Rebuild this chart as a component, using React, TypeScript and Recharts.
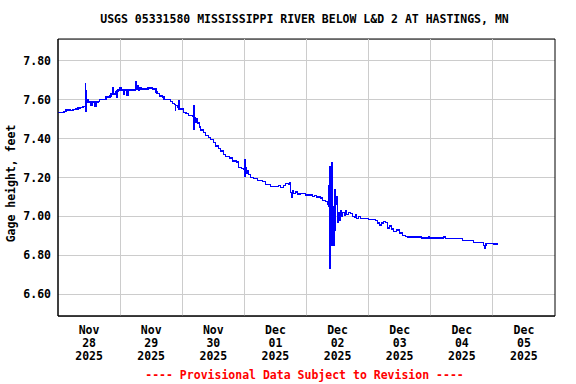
import React from "react";
import {
  LineChart,
  Line,
  XAxis,
  YAxis,
  CartesianGrid,
  ReferenceLine,
  ReferenceArea,
} from "recharts";

// hours since Nov 28 2025 00:00
const hours = [
  0, 1.5, 2.3, 3.1, 4.6, 5.8, 7.0, 7.7, 8.5, 9.7, 10.5, 10.6, 10.7, 10.8, 11.0, 11.2, 11.6, 12.4, 12.8, 13.2,
  13.9, 14.3, 14.7, 15.5, 15.9, 17.4, 18.6, 20.1, 20.5, 21.3, 21.5, 22.1, 22.5, 22.8, 23.2, 24.0, 24.4, 25.2,
  25.5, 26.7, 27.1, 29.4, 29.9, 30.2, 30.6, 31.0, 31.4, 32.1, 34.1, 34.8, 36.4, 37.9, 38.3, 39.1, 40.3, 41.0,
  42.2, 43.4, 44.1, 44.9, 45.3, 45.5, 46.1, 46.5, 46.7, 47.2, 48.4, 49.5, 50.3, 51.9, 52.4, 52.5, 52.6, 53.0,
  53.4, 53.8, 54.6, 55.0, 56.1, 56.9, 58.1, 58.8, 60.0, 60.8, 61.9, 62.7, 63.9, 64.6, 66.2, 67.4, 68.9, 69.7,
  70.8, 71.6, 72.1, 72.2, 72.4, 72.8, 73.2, 73.5, 74.3, 75.5, 77.0, 79.0, 80.1, 82.1, 84.0, 85.2, 85.9, 87.1,
  87.9, 88.7, 89.0, 89.4, 89.8, 90.2, 90.6, 91.0, 91.7, 92.5, 93.7, 95.6, 97.5, 98.3, 99.1, 99.9, 101.4, 102.2,
  103.4, 104.1, 104.5, 104.7, 105.0, 105.1, 105.4, 105.5, 105.9, 106.1, 106.3, 106.4, 106.8, 107.0, 107.1,
  107.3, 107.8, 108.0, 108.4, 108.8, 109.2, 109.6, 110.0, 110.7, 111.1, 111.5, 112.3, 113.0, 113.8, 114.6,
  115.0, 115.4, 116.1, 116.9, 118.8, 120.0, 121.5, 122.7, 123.5, 124.3, 125.0, 125.8, 126.6, 127.4, 128.1,
  128.9, 129.7, 130.8, 132.0, 133.2, 134.3, 135.1, 140.0, 140.3, 143.0, 143.3, 149.0, 149.8, 155.6, 156.4,
  159.6, 160.4, 163.5, 164.3, 164.7, 165.0, 165.3, 167.2, 168.4, 169.9,
];

const gage = [
  7.535, 7.535, 7.54, 7.548, 7.545, 7.55, 7.553, 7.558, 7.56, 7.565, 7.57, 7.683, 7.538, 7.645, 7.59, 7.6, 7.585, 7.59, 7.572, 7.59,
  7.585, 7.567, 7.588, 7.59, 7.6, 7.6, 7.615, 7.62, 7.63, 7.66, 7.63, 7.64, 7.613, 7.645, 7.651, 7.665, 7.65, 7.63,
  7.651, 7.625, 7.651, 7.651, 7.695, 7.655, 7.675, 7.65, 7.665, 7.656, 7.656, 7.66, 7.656, 7.64, 7.632, 7.62, 7.615, 7.6,
  7.6, 7.59, 7.58, 7.575, 7.546, 7.57, 7.56, 7.595, 7.553, 7.553, 7.536, 7.53, 7.518, 7.515, 7.57, 7.45, 7.51, 7.485,
  7.505, 7.48, 7.46, 7.444, 7.43, 7.417, 7.405, 7.396, 7.38, 7.362, 7.35, 7.336, 7.32, 7.307, 7.3, 7.285, 7.28, 7.251,
  7.245, 7.24, 7.293, 7.205, 7.25, 7.222, 7.235, 7.215, 7.2, 7.195, 7.186, 7.18, 7.164, 7.155, 7.155, 7.16, 7.15, 7.16,
  7.168, 7.17, 7.165, 7.175, 7.122, 7.1, 7.13, 7.117, 7.125, 7.115, 7.117, 7.11, 7.11, 7.102, 7.108, 7.1, 7.095, 7.08,
  7.075, 7.063, 7.16, 7.05, 7.255, 6.73, 7.2, 6.85, 7.278, 6.9, 7.05, 6.85, 7.14, 6.97, 6.93,
  7.06, 7.1, 6.97, 7.02, 6.98, 7.03, 7.0, 7.02, 7.007, 7.03, 7.01, 7.02, 7.015, 7.0, 6.995,
  7.01, 6.99, 6.998, 6.99, 6.99, 6.985, 6.985, 6.978, 6.966, 6.955, 6.966, 6.975, 6.968, 6.94, 6.95,
  6.935, 6.923, 6.93, 6.915, 6.903, 6.897, 6.894, 6.894, 6.888, 6.894, 6.888, 6.894, 6.886, 6.886, 6.877,
  6.877, 6.865, 6.865, 6.851, 6.835, 6.85, 6.862, 6.862, 6.857, 6.85,
];

const tickHours = [12, 36, 60, 84, 108, 132, 156, 180];
const tickMonths = ["Nov", "Nov", "Nov", "Dec", "Dec", "Dec", "Dec", "Dec"];
const tickDays = ["28", "29", "30", "01", "02", "03", "04", "05"];
const tickYears = ["2025", "2025", "2025", "2025", "2025", "2025", "2025", "2025"];
const midnights = [24, 48, 72, 96, 120, 144, 168];
const yTicks = [6.6, 6.8, 7.0, 7.2, 7.4, 7.6, 7.8];

const X_DOMAIN: [number, number] = [0, 192];
const Y_DOMAIN: [number, number] = [6.487, 7.913];

const data = hours.map((h, i) => ({ h, v: gage[i] }));

const FONT = "'DejaVu Sans Mono', 'Liberation Mono', monospace";

const XTick = (props: any) => {
  const { x, y, payload } = props;
  const i = tickHours.indexOf(payload.value);
  if (i < 0) return null;
  return (
    <text
      x={x}
      y={y}
      textAnchor="middle"
      fontFamily={FONT}
      fontWeight="bold"
      fontSize={11.5}
      fill="#000"
    >
      <tspan x={x} dy={10}>{tickMonths[i]}</tspan>
      <tspan x={x} dy={13}>{tickDays[i]}</tspan>
      <tspan x={x} dy={13}>{tickYears[i]}</tspan>
    </text>
  );
};

const YLabel = (props: any) => {
  const { viewBox } = props;
  const cx = 15;
  const cy = viewBox.y + viewBox.height / 2 + 6;
  return (
    <text
      x={cx}
      y={cy}
      transform={`rotate(-90 ${cx} ${cy})`}
      textAnchor="middle"
      fontFamily={FONT}
      fontWeight="bold"
      fontSize={11.5}
      fill="#000"
    >
      Gage height, feet
    </text>
  );
};

export default function App() {
  return (
    <div
      style={{
        position: "absolute",
        left: 0,
        top: 0,
        width: 576,
        height: 384,
        background: "#fff",
        fontFamily: FONT,
      }}
    >
      <div
        style={{
          position: "absolute",
          left: 56,
          width: 497,
          top: 12,
          textAlign: "center",
          fontWeight: "bold",
          fontSize: 11.5,
          lineHeight: "14px",
          color: "#000",
          whiteSpace: "nowrap",
        }}
      >
        USGS 05331580 MISSISSIPPI RIVER BELOW L&amp;D 2 AT HASTINGS, MN
      </div>
      <LineChart
        width={576}
        height={384}
        data={data}
        margin={{ top: 39, right: 21, bottom: 0, left: 0 }}
      >
        <CartesianGrid vertical={false} stroke="#cccccc" strokeWidth={1} shapeRendering="crispEdges" />
        {midnights.map((m) => (
          <ReferenceLine key={m} x={m} stroke="#cccccc" strokeWidth={1} shapeRendering="crispEdges" />
        ))}
        <XAxis
          dataKey="h"
          type="number"
          domain={X_DOMAIN}
          ticks={tickHours}
          tick={<XTick />}
          tickLine={false}
          axisLine={{ stroke: "#000" }}
          height={68}
          allowDataOverflow
          interval={0}
        />
        <YAxis
          type="number"
          domain={Y_DOMAIN}
          ticks={yTicks}
          tickFormatter={(v: number) => v.toFixed(2)}
          tick={{ fontFamily: FONT, fontWeight: "bold", fontSize: 11.5, fill: "#000" }}
          tickLine={false}
          tickSize={5}
          tickMargin={2}
          axisLine={{ stroke: "#000" }}
          width={58}
          allowDataOverflow
          interval={0}
          label={<YLabel />}
        />
        <Line
          type="stepAfter"
          dataKey="v"
          stroke="#0000ff"
          strokeWidth={1.3}
          dot={false}
          isAnimationActive={false}
          shapeRendering="crispEdges"
        />
        <ReferenceArea
          x1={X_DOMAIN[0]}
          x2={X_DOMAIN[1]}
          y1={Y_DOMAIN[0]}
          y2={Y_DOMAIN[1]}
          fill="none"
          fillOpacity={0}
          stroke="#000"
          strokeWidth={1}
          ifOverflow="visible"
        />
      </LineChart>
      <div
        style={{
          position: "absolute",
          left: 56,
          width: 497,
          top: 368,
          textAlign: "center",
          fontWeight: "bold",
          fontSize: 11.5,
          lineHeight: "14px",
          color: "#ff0000",
          whiteSpace: "nowrap",
        }}
      >
        ---- Provisional Data Subject to Revision ----
      </div>
    </div>
  );
}
